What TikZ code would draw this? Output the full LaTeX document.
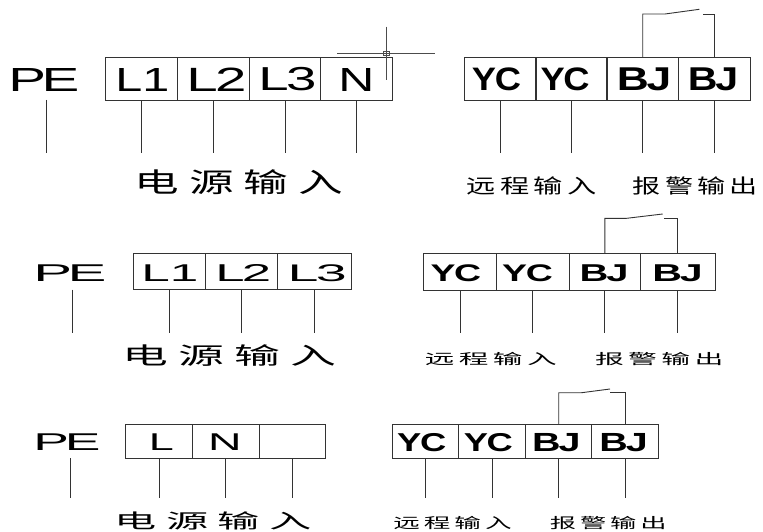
\documentclass[tikz,border=0pt]{standalone}
\usepackage{fontspec}
\newfontfamily\lat{Liberation Sans}
\newfontfamily\cjk{Noto Sans CJK SC}
\newcommand\cjkfour[5]{#2\hspace{#1}#3\hspace{#1}#4\hspace{#1}#5}
\newcommand\fitr[3]{\resizebox*{#1pt}{#2pt}{\lat #3}}
\newcommand\fitb[3]{\resizebox*{#1pt}{#2pt}{\lat\bfseries #3}}
\newcommand\fitc[3]{\resizebox*{#1pt}{#2pt}{\cjk #3}}
\tikzset{
  wireline/.style={draw=black!80, line width=0.9pt},
  cell/.style 2 args={wireline, rectangle, inner sep=0pt, outer sep=0pt, minimum width=#1pt, minimum height=#2pt},
  txt/.style={inner sep=0pt, outer sep=0pt, text=black},
  cursor/.style={draw=black!70, line width=0.6pt},
}
\begin{document}
\begin{tikzpicture}[x=1pt,y=-1pt]
\useasboundingbox[fill=white] (0,0) rectangle (763,532);

% ===================== Row 1 =====================
\node[cell={71.7}{42.7}] (r1l1) at (141.5,78.7) {};
\node[cell={71.7}{42.7}] (r1l2) at (213.3,78.7) {};
\node[cell={71.7}{42.7}] (r1l3) at (285,78.7) {};
\node[cell={71.7}{42.7}] (r1n)  at (356.5,78.7) {};
\node[cell={72}{42.7}] (r1y1) at (500,78.7) {};
\node[cell={72}{42.7}] (r1y2) at (571.3,78.7) {};
\node[cell={72}{42.7}] (r1b1) at (642.7,78.7) {};
\node[cell={72}{42.7}] (r1b2) at (714.7,78.7) {};

\node[txt] (r1pe) at (44,79.5) {\fitr{71}{23}{P\kern-0.08em E}};
\node[txt] (r1tl1) at (142.5,79.5) {\fitr{54}{23}{L1}};
\node[txt] (r1tl2) at (216.5,79.5) {\fitr{60}{23.5}{L\kern-0.05em 2}};
\node[txt] (r1tl3) at (287.5,79.5) {\fitr{58}{23.5}{L\kern-0.05em 3}};
\node[txt] (r1tn) at (356.5,79.5) {\fitr{36}{23}{N}};
\node[txt] (r1ty1) at (496.5,79.5) {\fitb{49}{23}{Y\kern-0.04em C}};
\node[txt] (r1ty2) at (565,79.5) {\fitb{49}{23}{Y\kern-0.04em C}};
\node[txt] (r1tb1) at (644,79.5) {\fitb{54.5}{23}{B\kern-0.05em J}};
\node[txt] (r1tb2) at (713,79.5) {\fitb{50.5}{23}{B\kern-0.05em J}};

\coordinate (r1end) at (0,152.7);
\coordinate (r1pet) at (46,100);
\draw[wireline] (r1pet) -- (r1pet |- r1end);
\foreach \c in {r1l1,r1l2,r1l3,r1n,r1y1,r1y2,r1b1,r1b2}
  \draw[wireline] (\c.south) -- (\c.south |- r1end);

\coordinate (s1a) at (665,14);
\coordinate (s1b) at (699.3,9.3);
\coordinate (s1c) at (703.3,14);
\draw[wireline] (r1b1.north) |- (s1a) -- (s1b);
\draw[wireline] (s1c) -| (r1b2.north);

% cursor mark
\draw[cursor] (386,26.7) -- (386,80);
\draw[cursor] (337.3,53.3) -- (435,53.3);
\draw[cursor] (383,51.7) rectangle (389,55);

\node[txt] (r1pw) at (239,182.5) {\fitc{208}{25}{\cjkfour{0.22em}{电}{源}{输}{入}}};
\node[txt] (r1rm) at (531.7,185.8) {\fitc{130}{18.3}{\cjkfour{0.15em}{远}{程}{输}{入}}};
\node[txt] (r1al) at (695.5,185.8) {\fitc{125}{18.3}{\cjkfour{0.15em}{报}{警}{输}{出}}};

% ===================== Row 2 =====================
\node[cell={72.4}{36}] (r2l1) at (169.5,271.3) {};
\node[cell={72}{36}] (r2l2) at (241.7,271.3) {};
\node[cell={74}{36}] (r2l3) at (314.7,271.3) {};
\node[cell={73.4}{36.7}] (r2y1) at (460,271.7) {};
\node[cell={72.3}{36.7}] (r2y2) at (532.8,271.7) {};
\node[cell={71.7}{36.7}] (r2b1) at (604.8,271.7) {};
\node[cell={74.3}{36.7}] (r2b2) at (677.8,271.7) {};

\node[txt] (r2pe) at (70,273.3) {\fitr{73}{16.7}{P\kern-0.08em E}};
\node[txt] (r2tl1) at (170,273.3) {\fitr{57}{16.7}{L1}};
\node[txt] (r2tl2) at (243.3,273.3) {\fitr{56}{17}{L\kern-0.05em 2}};
\node[txt] (r2tl3) at (317.2,273.3) {\fitr{59}{17}{L\kern-0.05em 3}};
\node[txt] (r2ty1) at (455.8,273.3) {\fitb{50.5}{17}{Y\kern-0.04em C}};
\node[txt] (r2ty2) at (527.5,273.3) {\fitb{50.5}{17}{Y\kern-0.04em C}};
\node[txt] (r2tb1) at (604,273.3) {\fitb{49}{17}{B\kern-0.05em J}};
\node[txt] (r2tb2) at (677.5,273.3) {\fitb{50.5}{17}{B\kern-0.05em J}};

\coordinate (r2end) at (0,332.7);
\coordinate (r2pet) at (72.7,289.5);
\draw[wireline] (r2pet) -- (r2pet |- r2end);
\foreach \c in {r2l1,r2l2,r2l3,r2y1,r2y2,r2b1,r2b2}
  \draw[wireline] (\c.south) -- (\c.south |- r2end);

\coordinate (s2a) at (626.7,218.3);
\coordinate (s2b) at (662.7,214);
\coordinate (s2c) at (664,218.3);
\draw[wireline] (r2b1.north) |- (s2a) -- (s2b);
\draw[wireline] (s2c) -| (r2b2.north);

\node[txt] (r2pw) at (229.8,355.8) {\fitc{213.7}{21.7}{\cjkfour{0.22em}{电}{源}{输}{入}}};
\node[txt] (r2rm) at (490.8,359.3) {\fitc{131.7}{13.3}{\cjkfour{0.15em}{远}{程}{输}{入}}};
\node[txt] (r2al) at (659.2,359.3) {\fitc{128.3}{13.3}{\cjkfour{0.15em}{报}{警}{输}{出}}};

% ===================== Row 3 =====================
\node[cell={66.6}{34}] (r3l) at (159,441.3) {};
\node[cell={66.7}{34}] (r3n) at (225.7,441.3) {};
\node[cell={66}{34}] (r3e) at (292,441.3) {};
\node[cell={66}{34}] (r3y1) at (425.3,441.3) {};
\node[cell={67.4}{34}] (r3y2) at (492,441.3) {};
\node[cell={66}{34}] (r3b1) at (558.7,441.3) {};
\node[cell={66.6}{34}] (r3b2) at (625,441.3) {};

\node[txt] (r3pe) at (67,442.3) {\fitr{67}{16.7}{P\kern-0.08em E}};
\node[txt] (r3tl) at (161.5,442.3) {\fitr{25}{16.7}{L}};
\node[txt] (r3tn) at (225,442.3) {\fitr{33.5}{16.7}{N}};
\node[txt] (r3ty1) at (421.7,442.5) {\fitb{49}{18.3}{Y\kern-0.04em C}};
\node[txt] (r3ty2) at (488.3,442.5) {\fitb{49}{18.3}{Y\kern-0.04em C}};
\node[txt] (r3tb1) at (556.3,442.5) {\fitb{48.5}{18.3}{B\kern-0.05em J}};
\node[txt] (r3tb2) at (623.7,442.5) {\fitb{48.5}{18.3}{B\kern-0.05em J}};

\coordinate (r3end) at (0,498.3);
\coordinate (r3pet) at (70,458.3);
\draw[wireline] (r3pet) -- (r3pet |- r3end);
\foreach \c in {r3l,r3n,r3e,r3y1,r3y2,r3b1,r3b2}
  \draw[wireline] (\c.south) -- (\c.south |- r3end);

\coordinate (s3a) at (581.7,392.7);
\coordinate (s3b) at (610,389);
\coordinate (s3c) at (610,392.7);
\draw[wireline] (r3b1.north) |- (s3a) -- (s3b);
\draw[wireline] (s3c) -| (r3b2.north);

\node[txt] (r3pw) at (213.3,520.8) {\fitc{196.7}{18.3}{\cjkfour{0.22em}{电}{源}{输}{入}}};
\node[txt] (r3rm) at (452.5,523.3) {\fitc{118.3}{13.3}{\cjkfour{0.15em}{远}{程}{输}{入}}};
\node[txt] (r3al) at (608.3,523.3) {\fitc{116.7}{13.3}{\cjkfour{0.15em}{报}{警}{输}{出}}};
\end{tikzpicture}
\end{document}
